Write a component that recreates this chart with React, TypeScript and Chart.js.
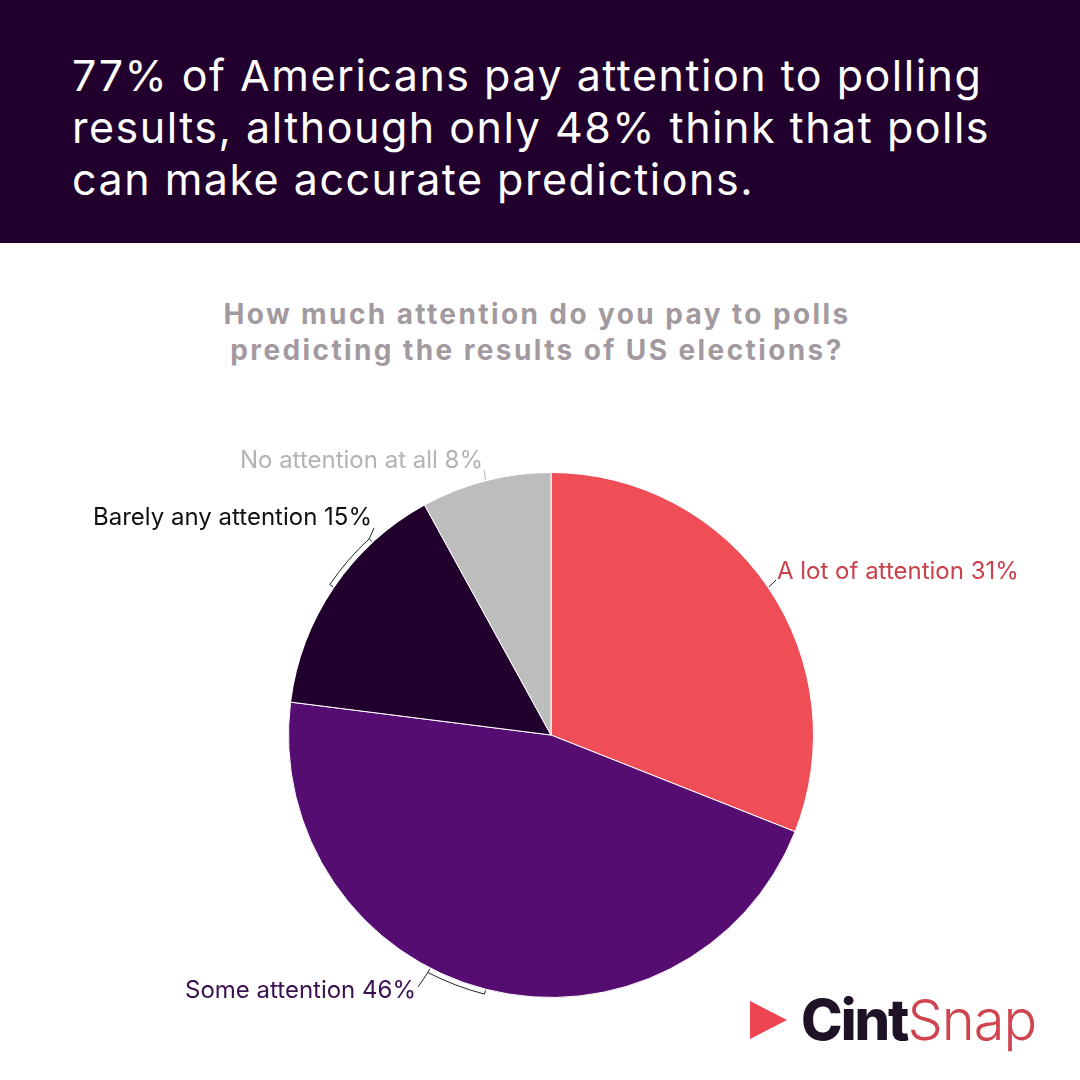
import React, { useEffect, useRef } from "react";
import { Chart, registerables } from "chart.js";

Chart.register(...registerables);

const categories = [
  "A lot of attention",
  "Some attention",
  "Barely any attention",
  "No attention at all",
];
const shares = [31, 46, 15, 8];
const sliceColors = ["#F04E57", "#560D72", "#22002E", "#BDBDBD"];
const labelColors = ["#C8414D", "#3A1150", "#111111", "#B3B3B3"];

// Label anchor per slice: where the text sits and which side the leader attaches
const labelLayout = [
  { x: 777, y: 572, align: "left", leader: "line", ax: 776, ay: 580 },
  { x: 416, y: 991, align: "right", leader: "bracket", ax: 418, ay: 987 },
  { x: 372, y: 518, align: "right", leader: "bracket", ax: 374, ay: 528 },
  { x: 483, y: 461, align: "right", leader: "line", ax: 484, ay: 470 },
];

const sliceLabels = {
  id: "sliceLabels",
  afterDatasetsDraw(chart: any) {
    const ctx = chart.ctx;
    const meta = chart.getDatasetMeta(0);
    const total = shares.reduce((a, b) => a + b, 0);
    meta.data.forEach((arc: any, i: number) => {
      const { x, y, startAngle, endAngle, outerRadius } = arc.getProps(
        ["x", "y", "startAngle", "endAngle", "outerRadius"],
        true
      );
      const mid = (startAngle + endAngle) / 2;
      const L = labelLayout[i];
      ctx.save();
      ctx.strokeStyle = i === 3 ? "#B3B3B3" : "#222222";
      ctx.lineWidth = 1;
      if (L.leader === "line") {
        const r = outerRadius + 1;
        ctx.beginPath();
        ctx.moveTo(x + r * Math.cos(mid), y + r * Math.sin(mid));
        ctx.lineTo(L.ax, L.ay);
        ctx.stroke();
      } else {
        const span = (13 * Math.PI) / 180;
        const a0 = mid;
        const a1 = mid + span;
        const rb = outerRadius + 5;
        const ri = outerRadius + 1;
        ctx.beginPath();
        ctx.moveTo(x + ri * Math.cos(a0), y + ri * Math.sin(a0));
        ctx.lineTo(x + rb * Math.cos(a0), y + rb * Math.sin(a0));
        ctx.arc(x, y, rb, a0, a1, false);
        ctx.lineTo(x + ri * Math.cos(a1), y + ri * Math.sin(a1));
        ctx.stroke();
        ctx.beginPath();
        ctx.moveTo(x + rb * Math.cos(a1), y + rb * Math.sin(a1));
        ctx.lineTo(L.ax, L.ay);
        ctx.stroke();
      }
      ctx.fillStyle = labelColors[i];
      ctx.font = "24px Inter, 'Noto Sans', sans-serif";
      ctx.textAlign = L.align as CanvasTextAlign;
      ctx.textBaseline = "middle";
      const pct = Math.round((shares[i] / total) * 100);
      ctx.fillText(`${categories[i]} ${pct}%`, L.x, L.y);
      ctx.restore();
    });
  },
};

export default function App() {
  const canvasRef = useRef<HTMLCanvasElement>(null);

  useEffect(() => {
    document.body.style.margin = "0";
    const chart = new Chart(canvasRef.current!, {
      type: "pie",
      data: {
        labels: categories,
        datasets: [
          {
            data: shares,
            backgroundColor: sliceColors,
            borderColor: "#FFFFFF",
            borderWidth: 1,
          },
        ],
      },
      options: {
        animation: false,
        responsive: false,
        maintainAspectRatio: false,
        layout: { padding: { left: 288, right: 266, top: 472, bottom: 82 } },
        plugins: {
          legend: { display: false },
          tooltip: { enabled: false },
        },
      },
      plugins: [sliceLabels],
    });
    return () => chart.destroy();
  }, []);

  return (
    <div
      style={{
        position: "relative",
        width: 1080,
        height: 1080,
        background: "#FFFFFF",
        overflow: "hidden",
        fontFamily: "Inter, 'Noto Sans', sans-serif",
      }}
    >
      <div
        style={{
          position: "absolute",
          left: 0,
          top: 0,
          width: 1080,
          height: 243,
          background: "#21002D",
        }}
      />
      <div
        style={{
          position: "absolute",
          left: 72,
          top: 49,
          width: 1000,
          color: "#FFFFFF",
          fontSize: 43,
          lineHeight: "52px",
          fontWeight: 400,
          letterSpacing: 1.5,
        }}
      >
        77% of Americans pay attention to polling
        <br />
        results, although only 48% think that polls
        <br />
        can make accurate predictions.
      </div>
      <div
        style={{
          position: "absolute",
          left: 0,
          top: 296,
          width: 1074,
          textAlign: "center",
          color: "#A29A9F",
          fontSize: 28,
          lineHeight: "36px",
          fontWeight: 700,
          letterSpacing: 2.4,
        }}
      >
        How much attention do you pay to polls
        <br />
        predicting the results of US elections?
      </div>
      <canvas
        ref={canvasRef}
        width={1080}
        height={1080}
        style={{ position: "absolute", left: 0, top: 0 }}
      />
      <div
        style={{
          position: "absolute",
          left: 750,
          top: 990,
          display: "flex",
          alignItems: "center",
          height: 60,
        }}
      >
        <div
          style={{
            width: 0,
            height: 0,
            borderTop: "19px solid transparent",
            borderBottom: "19px solid transparent",
            borderLeft: "37px solid #EE4650",
            marginRight: 14,
          }}
        />
        <span
          style={{
            fontSize: 56,
            fontWeight: 800,
            color: "#1D1226",
            letterSpacing: -2,
          }}
        >
          Cint
        </span>
        <span
          style={{
            fontSize: 56,
            fontWeight: 300,
            color: "#D0444F",
            letterSpacing: -1,
          }}
        >
          Snap
        </span>
      </div>
    </div>
  );
}
